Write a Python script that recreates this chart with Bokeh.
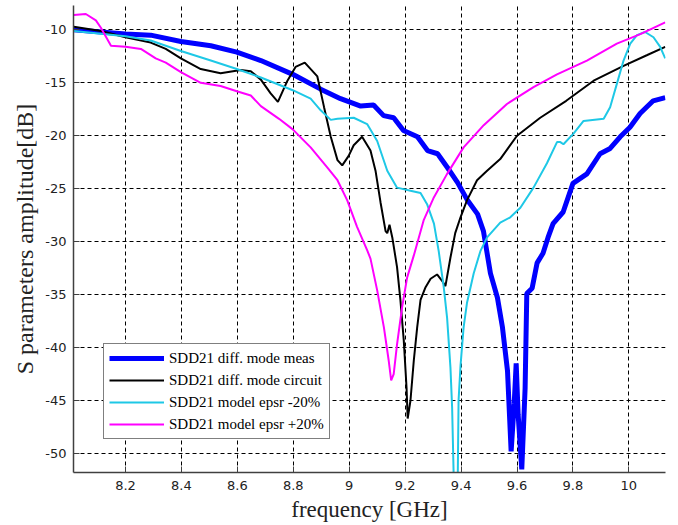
from bokeh.plotting import figure
from bokeh.models import FixedTicker, Range1d, Legend, LegendItem
from bokeh.embed import file_html
from bokeh.resources import INLINE

# ---- data ----
meas_f = [8.015, 8.112, 8.200, 8.290, 8.398, 8.505, 8.598, 8.684, 8.798, 8.898, 8.969, 9.041,
          9.087, 9.123, 9.159, 9.194, 9.244, 9.280, 9.316, 9.351, 9.387, 9.423, 9.459, 9.480,
          9.505, 9.530, 9.548, 9.566, 9.579, 9.590, 9.597, 9.604, 9.617, 9.629, 9.635, 9.654,
          9.672, 9.693, 9.711, 9.729, 9.765, 9.800, 9.850, 9.897, 9.933, 9.969, 10.004, 10.040,
          10.087, 10.130]
meas_db = [-10.0, -10.2, -10.4, -10.5, -11.1, -11.5, -12.1, -12.9, -14.2, -15.6, -16.5, -17.2,
           -17.1, -18.1, -18.3, -19.5, -20.1, -21.4, -21.7, -23.0, -24.4, -26.1, -27.4, -29.0,
           -33.0, -35.3, -38.1, -42.2, -49.8, -45.3, -41.5, -46.3, -51.5, -43.8, -34.9, -34.4,
           -32.0, -31.1, -29.6, -28.3, -27.2, -24.5, -23.6, -21.7, -21.2, -20.1, -19.2, -17.9,
           -16.7, -16.4]

circ_f = [8.015, 8.112, 8.200, 8.290, 8.344, 8.398, 8.469, 8.540, 8.612, 8.648, 8.684, 8.719,
          8.745, 8.779, 8.808, 8.841, 8.886, 8.910, 8.934, 8.958, 8.975, 8.998, 9.016, 9.046,
          9.076, 9.094, 9.112, 9.130, 9.136, 9.144, 9.154, 9.171, 9.183, 9.195, 9.205, 9.209,
          9.219, 9.231, 9.243, 9.255, 9.273, 9.291, 9.314, 9.332, 9.344, 9.362, 9.379, 9.398,
          9.421, 9.457, 9.493, 9.540, 9.600, 9.683, 9.776, 9.874, 9.981, 10.064, 10.130]
circ_db = [-9.7, -10.1, -10.7, -11.2, -11.8, -12.7, -13.7, -14.1, -13.8, -13.9, -14.7, -16.0,
           -16.8, -14.8, -13.5, -13.1, -14.4, -17.3, -20.1, -22.3, -22.8, -21.9, -20.9, -20.1,
           -21.4, -23.3, -26.3, -29.0, -29.2, -28.4, -29.6, -32.4, -35.5, -39.3, -43.8, -46.7,
           -45.0, -41.2, -38.1, -35.5, -34.3, -33.5, -33.1, -33.7, -34.2, -31.5, -29.2, -27.7,
           -26.1, -24.2, -23.3, -22.2, -20.0, -18.3, -16.7, -14.8, -13.4, -12.4, -11.6]

m20_f = [8.015, 8.200, 8.290, 8.398, 8.505, 8.598, 8.684, 8.798, 8.862, 8.898, 8.934, 8.958,
         9.016, 9.064, 9.100, 9.136, 9.171, 9.219, 9.255, 9.279, 9.303, 9.320, 9.338, 9.350,
         9.362, 9.368, 9.376, 9.387, 9.391, 9.398, 9.409, 9.421, 9.445, 9.469, 9.493, 9.540,
         9.576, 9.612, 9.659, 9.707, 9.743, 9.755, 9.766, 9.802, 9.838, 9.910, 9.933, 9.957,
         9.981, 10.005, 10.029, 10.058, 10.088, 10.112, 10.130]
m20_db = [-10.1, -10.6, -11.0, -12.0, -12.9, -13.7, -14.5, -15.7, -16.5, -17.6, -18.5, -18.4,
          -18.3, -18.9, -20.5, -23.3, -24.9, -25.2, -25.4, -26.5, -28.3, -30.9, -34.3, -37.2,
          -41.9, -45.7, -55.0, -55.0, -45.0, -41.7, -38.1, -35.8, -33.0, -30.9, -29.6, -28.2,
          -27.7, -26.8, -24.9, -22.6, -20.6, -20.6, -20.8, -19.8, -18.6, -18.4, -17.3, -15.1,
          -12.9, -11.3, -10.5, -10.2, -10.7, -11.6, -12.7]

p20_f = [8.015, 8.058, 8.094, 8.112, 8.148, 8.200, 8.255, 8.308, 8.344, 8.398, 8.469, 8.540,
         8.598, 8.648, 8.684, 8.749, 8.798, 8.862, 8.922, 8.958, 8.993, 9.028, 9.064, 9.076,
         9.100, 9.124, 9.141, 9.150, 9.159, 9.171, 9.189, 9.207, 9.231, 9.266, 9.303, 9.350,
         9.409, 9.481, 9.564, 9.659, 9.743, 9.850, 9.957, 10.041, 10.130]
p20_db = [-8.6, -8.5, -9.1, -9.8, -11.5, -11.6, -11.8, -12.7, -13.1, -14.0, -15.0, -15.3,
          -15.8, -16.2, -17.2, -18.4, -19.4, -21.1, -23.0, -24.2, -26.1, -28.6, -30.8, -31.6,
          -34.6, -38.1, -41.2, -43.1, -42.5, -39.7, -36.2, -33.4, -31.3, -28.0, -25.8, -23.6,
          -21.1, -19.0, -17.0, -15.4, -14.2, -12.9, -11.3, -10.4, -9.3]

series_labels = ["SDD21 diff. mode meas", "SDD21 diff. mode circuit",
                 "SDD21 model epsr -20%", "SDD21 model epsr +20%"]

x_ticks = [8.2, 8.4, 8.6, 8.8, 9.0, 9.2, 9.4, 9.6, 9.8, 10.0]
x_tick_labels = ["8.2", "8.4", "8.6", "8.8", "9", "9.2", "9.4", "9.6", "9.8", "10"]
y_ticks = [-50, -45, -40, -35, -30, -25, -20, -15, -10]
y_tick_labels = ["-50", "-45", "-40", "-35", "-30", "-25", "-20", "-15", "-10"]

x_label = "frequency [GHz]"
y_label = "S parameters amplitude[dB]"

# ---- figure ----
p = figure(width=678, height=525, output_backend="svg", toolbar_location=None,
           x_range=Range1d(8.014, 10.131), y_range=Range1d(-51.8, -7.7),
           min_border_left=73, min_border_right=13, min_border_top=5, min_border_bottom=53)
p.background_fill_color = "white"
p.border_fill_color = "white"
p.outline_line_color = None

r_meas = p.line(meas_f, meas_db, line_color="#0000FF", line_width=5)
r_circ = p.line(circ_f, circ_db, line_color="black", line_width=2)
r_m20 = p.line(m20_f, m20_db, line_color="#1EC8E6", line_width=2)
r_p20 = p.line(p20_f, p20_db, line_color="#FF00FF", line_width=2)

p.xaxis.ticker = FixedTicker(ticks=x_ticks)
p.yaxis.ticker = FixedTicker(ticks=y_ticks)
p.xaxis.major_label_overrides = {t: l for t, l in zip(x_ticks, x_tick_labels)}
p.yaxis.major_label_overrides = {t: l for t, l in zip(y_ticks, y_tick_labels)}

for ax in (p.xaxis[0], p.yaxis[0]):
    ax.axis_line_color = "#404040"
    ax.axis_line_width = 1.5
    ax.major_tick_in = 6
    ax.major_tick_out = 0
    ax.major_tick_line_color = "#404040"
    ax.minor_tick_line_color = None
    ax.major_label_text_font = "DejaVu Sans"
    ax.major_label_text_font_size = "13px"
    ax.major_label_text_color = "#222222"
    ax.axis_label_text_font = "Liberation Serif"
    ax.axis_label_text_font_style = "normal"
    ax.axis_label_text_color = "#222222"

p.xaxis.axis_label = x_label
p.yaxis.axis_label = y_label
p.xaxis.axis_label_text_font_size = "23px"
p.yaxis.axis_label_text_font_size = "24px"
p.xaxis.major_label_standoff = 8
p.xaxis.axis_label_standoff = 4
p.yaxis.major_label_standoff = 7
p.yaxis.axis_label_standoff = 4

for g in (p.xgrid[0], p.ygrid[0]):
    g.grid_line_color = "black"
    g.grid_line_dash = "4 3"
    g.grid_line_width = 1

legend = Legend(items=[LegendItem(label=series_labels[0], renderers=[r_meas]),
                       LegendItem(label=series_labels[1], renderers=[r_circ]),
                       LegendItem(label=series_labels[2], renderers=[r_m20]),
                       LegendItem(label=series_labels[3], renderers=[r_p20])],
                location=(30, 33))
legend.border_line_color = "black"
legend.border_line_width = 1
legend.background_fill_color = "white"
legend.background_fill_alpha = 1
legend.label_text_font = "Liberation Serif"
legend.label_text_font_size = "15px"
legend.label_text_color = "black"
legend.glyph_width = 55
legend.glyph_height = 18
legend.label_height = 18
legend.label_standoff = 5
legend.spacing = 4
legend.padding = 5
legend.margin = 0
p.add_layout(legend, "center")

open("out.html", "w").write(file_html(p, INLINE))
